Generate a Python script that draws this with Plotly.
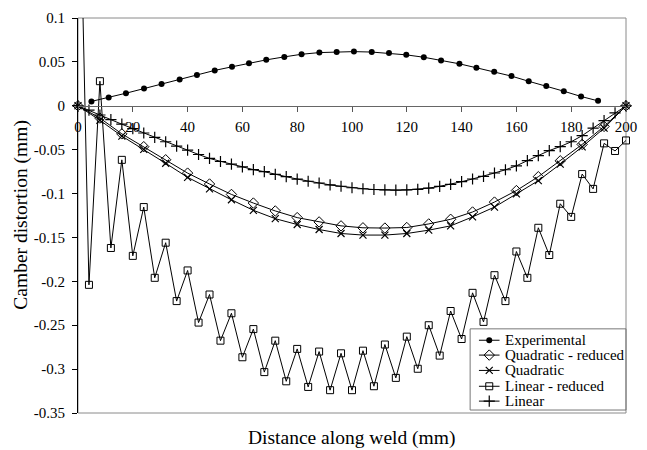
import plotly.graph_objects as go

# ---- data -------------------------------------------------------------
exp_x = [4.9, 11.2, 17.5, 24.1, 30.5, 37.1, 43.4, 49.9, 56.2, 62.4,
         68.7, 75.3, 81.6, 88.1, 94.4, 100.7, 107.2, 113.5, 119.8, 126.2,
         132.5, 139.2, 145.4, 151.9, 158.2, 164.5, 170.9, 177.3, 183.6, 189.8]
exp_y = [0.005, 0.0095, 0.0143, 0.0196, 0.0248, 0.0298, 0.035, 0.0403, 0.0444, 0.0485,
         0.0523, 0.0557, 0.0587, 0.0606, 0.0613, 0.0617, 0.0612, 0.0600, 0.0580, 0.0553,
         0.0517, 0.0478, 0.0433, 0.0388, 0.0338, 0.0279, 0.0226, 0.0166, 0.0106, 0.0056]

quad_x = [0, 8, 16, 24, 32, 40, 48, 56, 64, 72, 80, 88, 96, 104, 112, 120, 128,
          136, 144, 152, 160, 168, 176, 184, 192, 200]
quad_red_y = [0, -0.014, -0.032, -0.0466, -0.0615, -0.0767, -0.0891, -0.1010, -0.1108,
              -0.1198, -0.1274, -0.1323, -0.1368, -0.1390, -0.1393, -0.1387, -0.1346,
              -0.1293, -0.1210, -0.1097, -0.0966, -0.0808, -0.0627, -0.0440, -0.0235, 0]
quad_y = [0, -0.0165, -0.0345, -0.0496, -0.0655, -0.0815, -0.0947, -0.1071, -0.1191,
          -0.1286, -0.1353, -0.1410, -0.1455, -0.1473, -0.1473, -0.1455, -0.1417,
          -0.1368, -0.1266, -0.1154, -0.1004, -0.0853, -0.0665, -0.0468, -0.0255, 0]

lin_x = [0, 4, 8, 12, 16, 20, 24, 28, 32, 36, 40, 44, 48, 52, 56, 60, 64, 68, 72, 76,
         80, 84, 88, 92, 96, 100, 104, 108, 112, 116, 120, 124, 128, 132, 136, 140,
         144, 148, 152, 156, 160, 164, 168, 172, 176, 180, 184, 188, 192, 196, 200]
lin_red_y = [0.36, -0.204, 0.028, -0.162, -0.0616, -0.171, -0.1154, -0.196, -0.156, -0.2225,
             -0.1876, -0.247, -0.215, -0.2676, -0.2364, -0.2865, -0.2544, -0.3034, -0.2676,
             -0.3139, -0.277, -0.3203, -0.280, -0.324, -0.282, -0.324, -0.279, -0.3195,
             -0.272, -0.310, -0.263, -0.2996, -0.250, -0.2846, -0.2338, -0.2657, -0.2131,
             -0.2462, -0.193, -0.2225, -0.166, -0.196, -0.139, -0.170, -0.1116, -0.1266,
             -0.0778, -0.0947, -0.0428, -0.0515, -0.0395]
lin_y = [0, -0.005, -0.0105, -0.0158, -0.021, -0.026, -0.031, -0.036, -0.041, -0.046,
         -0.0505, -0.0555, -0.060, -0.0635, -0.0665, -0.0695, -0.0728, -0.0751, -0.0782,
         -0.0808, -0.0835, -0.086, -0.088, -0.0902, -0.0917, -0.0934, -0.0945, -0.0954,
         -0.0959, -0.0961, -0.0959, -0.0952, -0.0938, -0.0918, -0.0895, -0.0865, -0.0834,
         -0.0804, -0.0766, -0.0729, -0.0684, -0.0625, -0.0567, -0.051, -0.0465, -0.041,
         -0.034, -0.0255, -0.017, -0.008, 0]

series_names = ["Experimental", "Quadratic - reduced", "Quadratic",
                "Linear - reduced", "Linear"]

x_ticks = [0, 20, 40, 60, 80, 100, 120, 140, 160, 180, 200]
y_ticks = [0.1, 0.05, 0, -0.05, -0.1, -0.15, -0.2, -0.25, -0.3, -0.35]
y_tick_labels = ["0.1", "0.05", "0", "-0.05", "-0.1", "-0.15", "-0.2", "-0.25", "-0.3", "-0.35"]

# ---- geometry (pixels) ------------------------------------------------
W, H = 647, 450
ML, MR, MT, MB = 78, 10, 14, 37
PW, PH = W - ML - MR, H - MT - MB
X_RANGE = [0, 200]
Y_RANGE = [-0.35, 0.1]
FONT = "Liberation Serif, Times New Roman, Times, DejaVu Serif, serif"


def px_to_paper_x(px):
    return (px - ML) / PW


def px_to_paper_y(py):
    return (H - MB - py) / PH


styles = [
    dict(symbol="circle", size=6, color="black", line=dict(width=0)),
    dict(symbol="diamond-open", size=8, color="black", line=dict(width=1)),
    dict(symbol="x-thin-open", size=7, color="black", line=dict(width=1.2, color="black")),
    dict(symbol="square-open", size=7, color="black", line=dict(width=1)),
    dict(symbol="cross-thin-open", size=8, color="black", line=dict(width=1.2, color="black")),
]

series = [(exp_x, exp_y), (quad_x, quad_red_y), (quad_x, quad_y),
          (lin_x, lin_red_y), (lin_x, lin_y)]

fig = go.Figure()
for (xs, ys), name, mk in zip(series, series_names, styles):
    fig.add_trace(go.Scatter(
        x=xs, y=ys, name=name, mode="lines+markers",
        line=dict(color="black", width=1),
        marker=mk, showlegend=False, cliponaxis=False,
    ))

# ---- legend drawn in pixel space on a hidden overlay axis --------------
LEG_BOX = (478, 328, 637, 410)
LEG_ROWS = [339.5, 354.5, 370, 386, 401]
LEG_LINE = (487, 508)
LEG_TEXT_X = 512

for yc, name, mk in zip(LEG_ROWS, series_names, styles):
    fig.add_trace(go.Scatter(
        x=[LEG_LINE[0], LEG_LINE[1]], y=[yc, yc], mode="lines",
        line=dict(color="black", width=1), xaxis="x2", yaxis="y2",
        showlegend=False, hoverinfo="skip",
    ))
    fig.add_trace(go.Scatter(
        x=[(LEG_LINE[0] + LEG_LINE[1]) / 2], y=[yc], mode="markers",
        marker=mk, xaxis="x2", yaxis="y2", showlegend=False, hoverinfo="skip",
    ))
    fig.add_annotation(
        x=px_to_paper_x(LEG_TEXT_X), y=px_to_paper_y(yc), xref="paper", yref="paper",
        text=name, showarrow=False, xanchor="left", yanchor="middle",
        font=dict(family=FONT, size=15, color="black"),
    )

fig.add_shape(type="rect", xref="paper", yref="paper",
              x0=px_to_paper_x(LEG_BOX[0]), y0=px_to_paper_y(LEG_BOX[3]),
              x1=px_to_paper_x(LEG_BOX[2]), y1=px_to_paper_y(LEG_BOX[1]),
              line=dict(color="#777777", width=1), fillcolor="rgba(0,0,0,0)", layer="above")

# plot-area frame
fig.add_shape(type="rect", xref="paper", yref="paper", x0=0, y0=0, x1=1, y1=1,
              line=dict(color="#8a8a8a", width=1), layer="below")

# axis titles
fig.add_annotation(
    x=px_to_paper_x(357), y=px_to_paper_y(438), xref="paper", yref="paper",
    text="Distance along weld (mm)", showarrow=False, xanchor="center", yanchor="middle",
    font=dict(family=FONT, size=19.5, color="black"),
)
fig.add_annotation(
    x=px_to_paper_x(19.5), y=px_to_paper_y(213), xref="paper", yref="paper",
    text="Camber distortion (mm)", showarrow=False, xanchor="center", yanchor="middle",
    textangle=-90, font=dict(family=FONT, size=19.5, color="black"),
)

zero_pos = (0 - Y_RANGE[0]) / (Y_RANGE[1] - Y_RANGE[0])

fig.update_layout(
    width=W, height=H,
    margin=dict(l=ML, r=MR, t=MT, b=MB, pad=0),
    paper_bgcolor="white", plot_bgcolor="white",
    font=dict(family=FONT, size=15, color="black"),
    showlegend=False,
    xaxis=dict(
        range=X_RANGE, anchor="free", position=zero_pos,
        tickmode="array", tickvals=x_ticks, ticktext=[str(v) for v in x_ticks],
        ticks="outside", ticklen=5, tickcolor="#555555", tickwidth=1,
        ticklabelstandoff=2, ticklabeloverflow="allow",
        showline=True, linecolor="#666666", linewidth=1,
        showgrid=False, zeroline=False,
        tickfont=dict(family=FONT, size=15, color="black"),
    ),
    yaxis=dict(
        range=Y_RANGE,
        tickmode="array", tickvals=y_ticks, ticktext=y_tick_labels,
        ticks="outside", ticklen=5, tickcolor="black", tickwidth=1,
        ticklabelstandoff=4, ticklabeloverflow="allow",
        showline=True, linecolor="black", linewidth=1,
        showgrid=False, zeroline=False,
        tickfont=dict(family=FONT, size=15, color="black"),
    ),
    xaxis2=dict(range=[ML, W - MR], overlaying="x", anchor="y2", visible=False,
                showgrid=False, zeroline=False),
    yaxis2=dict(range=[H - MB, MT], overlaying="y", anchor="x2", visible=False,
                showgrid=False, zeroline=False),
)

fig.write_html("out.html")
